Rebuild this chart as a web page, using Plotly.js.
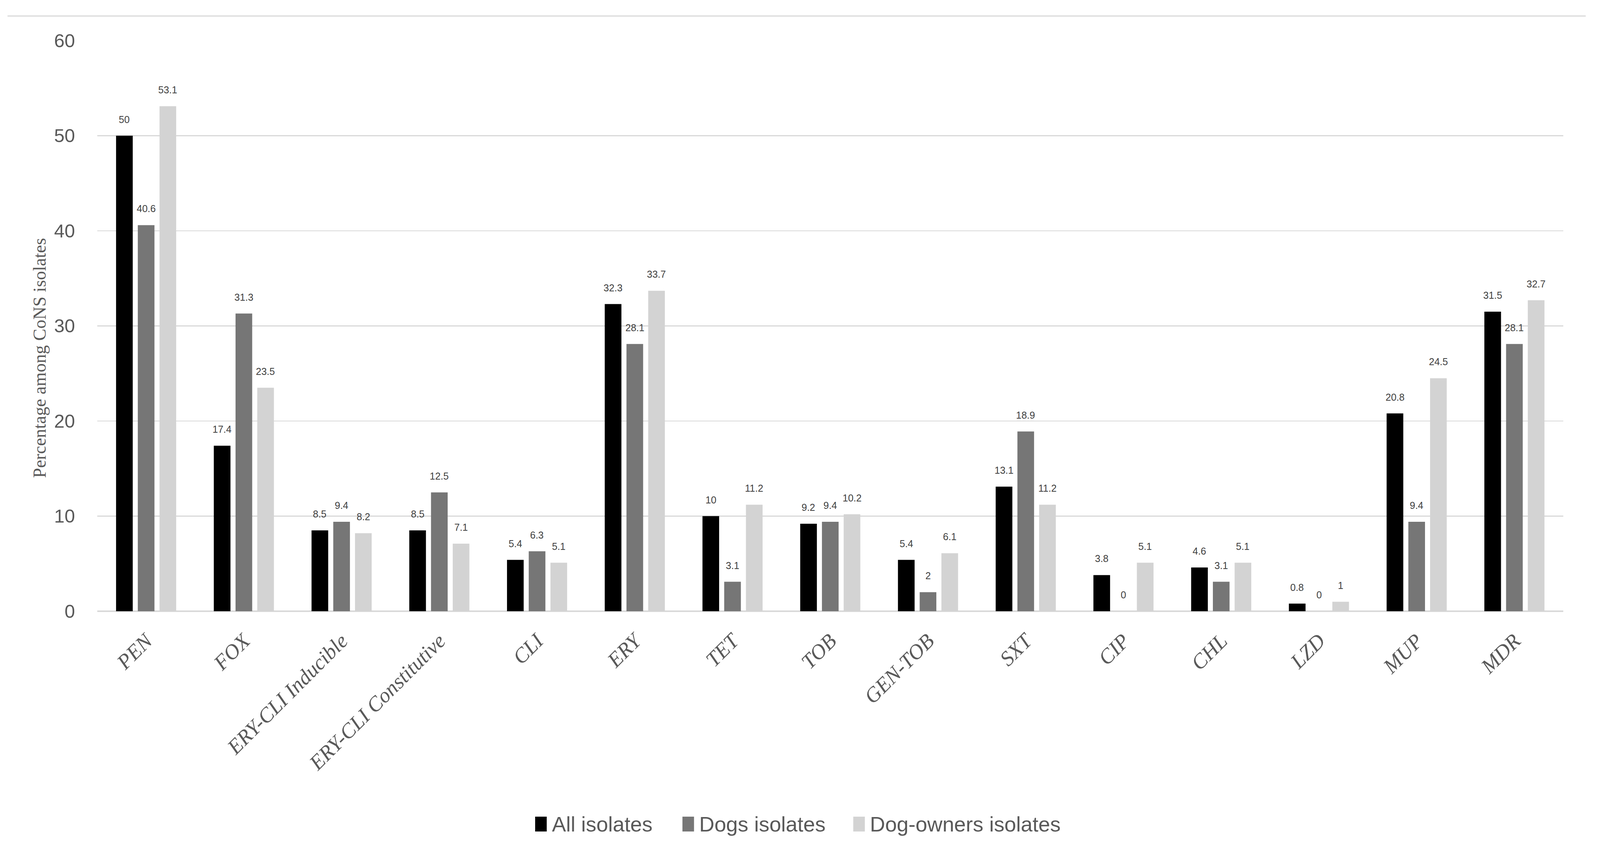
<!DOCTYPE html>
<html>
<head>
<meta charset="utf-8">
<script src="https://cdn.plot.ly/plotly-3.0.1.min.js"></script>
<style>
  html, body { margin: 0; padding: 0; background: #ffffff; overflow: hidden; }
</style>
</head>
<body>
<div id="chart"></div>
<script>
// ── Data ─────────────────────────────────────────────────────
const CATEGORIES = [
  'PEN', 'FOX', 'ERY-CLI Inducible', 'ERY-CLI Constitutive', 'CLI', 'ERY',
  'TET', 'TOB', 'GEN-TOB', 'SXT', 'CIP', 'CHL', 'LZD', 'MUP', 'MDR',
];
const SERIES_NAMES = ['All isolates', 'Dogs isolates', 'Dog-owners isolates'];
const ALL_ISOLATES    = [50, 17.4, 8.5, 8.5, 5.4, 32.3, 10, 9.2, 5.4, 13.1, 3.8, 4.6, 0.8, 20.8, 31.5];
const DOGS_ISOLATES   = [40.6, 31.3, 9.4, 12.5, 6.3, 28.1, 3.1, 9.4, 2, 18.9, 0, 3.1, 0, 9.4, 28.1];
const OWNERS_ISOLATES = [53.1, 23.5, 8.2, 7.1, 5.1, 33.7, 11.2, 10.2, 6.1, 11.2, 5.1, 5.1, 1, 24.5, 32.7];
const Y_TICKS = [0, 10, 20, 30, 40, 50, 60];
const Y_TITLE = 'Percentage among CoNS isolates';

// ── Look ─────────────────────────────────────────────────────
// everything below is measured on the 4422x2202 original and scaled
// to the real viewport, so the picture keeps the same proportions
const W = 4422, H = 2202;
const vw = window.innerWidth || W, vh = window.innerHeight || H;
const sx = vw / W, sy = vh / H;
const fs = Math.sqrt(sx * sy);
const X = v => v * sx, Y = v => v * sy, F = v => v * fs;

const M = { l: X(269), r: X(102), t: Y(104), b: Y(637) };
const COLORS = ['#000000', '#767676', '#d3d3d3'];
const GRID = '#d9d9d9';
const TXT = '#595959';
const SANS = '"Liberation Sans", Arial, sans-serif';
const SERIF = '"Liberation Serif", "Times New Roman", serif';

// pixel (original coords) -> paper helpers, decorations only
const plotW = vw - M.l - M.r, plotH = vh - M.t - M.b;
const px2x = px => (X(px) - M.l) / plotW;
const px2y = py => (vh - M.b - Y(py)) / plotH;

const seriesValues = [ALL_ISOLATES, DOGS_ISOLATES, OWNERS_ISOLATES];
const BARGAP = 0.333;

const traces = seriesValues.map((vals, i) => ({
  type: 'bar',
  name: SERIES_NAMES[i],
  x: CATEGORIES,
  y: vals,
  marker: { color: COLORS[i], line: { width: 0 } },
  showlegend: false,
  hoverinfo: 'skip',
}));

// value labels above each bar
const slot = plotW / CATEGORIES.length * (1 - BARGAP) / 3;
const annotations = [];
seriesValues.forEach((vals, i) => {
  vals.forEach((v, j) => {
    annotations.push({
      x: CATEGORIES[j], y: v, xref: 'x', yref: 'y',
      xshift: (i - 1) * slot, yshift: Y(26),
      yanchor: 'bottom', xanchor: 'center',
      text: String(v), showarrow: false,
      font: { family: SANS, size: F(26), color: '#404040' },
    });
  });
});

// y axis title (sits lower than plot centre in the original)
annotations.push({
  xref: 'paper', yref: 'paper', x: px2x(109), y: px2y(917),
  text: Y_TITLE, textangle: -90, showarrow: false,
  xanchor: 'center', yanchor: 'middle',
  font: { family: SERIF, size: F(48), color: TXT },
});

// custom legend with big square swatches
const LEG_X = [1479, 1886, 2358];
const LEG_Y = 2110;
const shapes = [
  { type: 'line', xref: 'paper', yref: 'paper',
    x0: px2x(21), x1: px2x(4382), y0: px2y(41), y1: px2y(41),
    line: { color: GRID, width: F(3) } },
];
SERIES_NAMES.forEach((name, i) => {
  shapes.push({
    type: 'rect', xref: 'paper', yref: 'paper',
    x0: px2x(LEG_X[i]), x1: px2x(LEG_X[i] + 32),
    y0: px2y(LEG_Y - 19), y1: px2y(LEG_Y + 19),
    fillcolor: COLORS[i], line: { width: 0 },
  });
  annotations.push({
    xref: 'paper', yref: 'paper', x: px2x(LEG_X[i] + 44), y: px2y(LEG_Y),
    xanchor: 'left', yanchor: 'middle', showarrow: false,
    text: name, font: { family: SANS, size: F(56), color: TXT },
  });
});

const layout = {
  width: vw, height: vh,
  paper_bgcolor: '#ffffff', plot_bgcolor: '#ffffff',
  margin: M,
  barmode: 'group',
  bargap: BARGAP,
  bargroupgap: 0.233,
  showlegend: false,
  xaxis: {
    type: 'category',
    tickangle: -45,
    tickfont: { family: SERIF, size: F(56), color: TXT, style: 'italic' },
    ticks: 'outside', ticklen: Y(22), tickcolor: 'rgba(0,0,0,0)',
    showline: false, showgrid: false, zeroline: false,
  },
  yaxis: {
    range: [0, 60],
    tickvals: Y_TICKS,
    tickfont: { family: SANS, size: F(50), color: TXT },
    ticks: 'outside', ticklen: X(50), tickcolor: 'rgba(0,0,0,0)',
    showline: false,
    showgrid: true, gridcolor: GRID, gridwidth: F(3),
    zeroline: true, zerolinecolor: GRID, zerolinewidth: F(5),
  },
  annotations,
  shapes,
};

Plotly.newPlot('chart', traces, layout, { displayModeBar: false, staticPlot: true });
</script>
</body>
</html>
